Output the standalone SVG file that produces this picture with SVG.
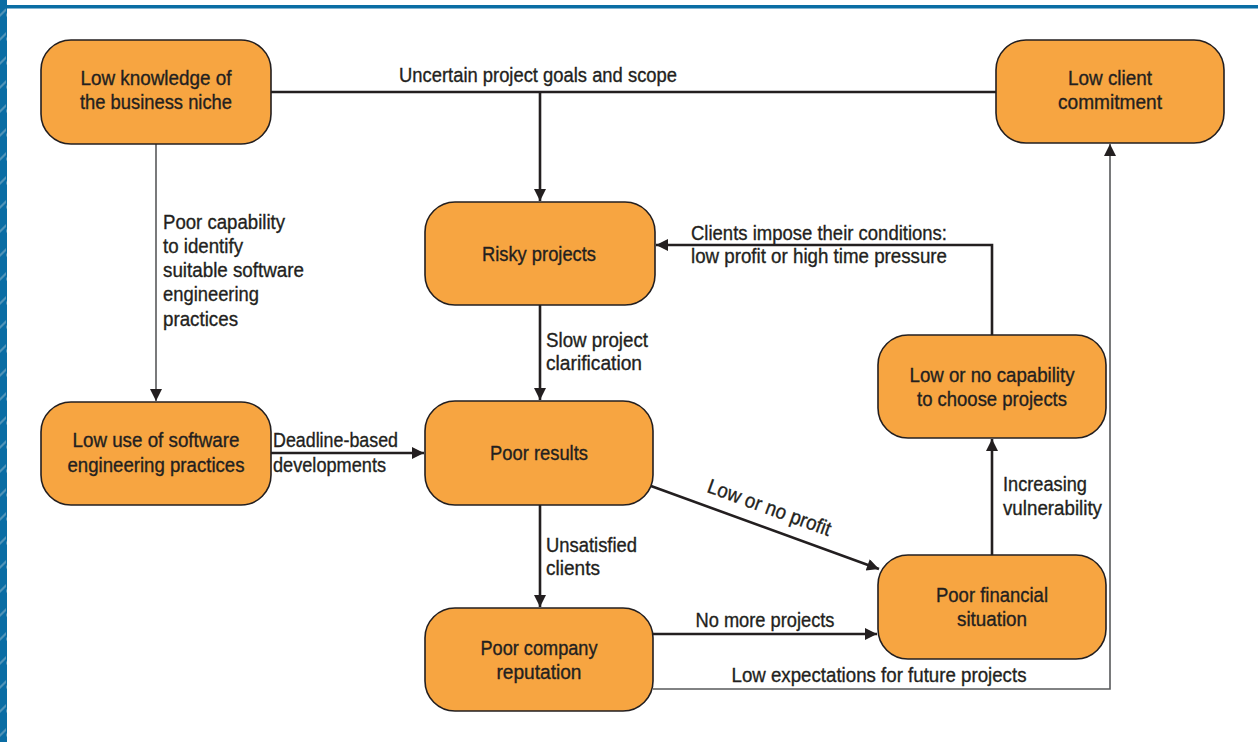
<svg xmlns="http://www.w3.org/2000/svg" width="1258" height="742" viewBox="0 0 1258 742">
<defs>
<style>
.node rect{fill:#f7a541;stroke:#231f20;stroke-width:1.6}
text{font-family:"Liberation Sans",Arial,sans-serif;font-size:20.5px;fill:#231f20;stroke:#231f20;stroke-width:0.35}
.c{text-anchor:middle}
.thick{fill:none;stroke:#231f20;stroke-width:2.6}
.thin{fill:none;stroke:#58595b;stroke-width:1.6}
</style>
<marker id="ah" viewBox="0 0 10 10" refX="10" refY="5" markerWidth="17" markerHeight="12" markerUnits="userSpaceOnUse" orient="auto">
<path d="M0,0 L10,5 L0,10 Z" fill="#231f20"/>
</marker>
<pattern id="hatch" width="6" height="24" patternUnits="userSpaceOnUse">
<rect width="6" height="24" fill="#0a6da4"/>
<path d="M0,14 L6,8 L6,11 L0,17 Z" fill="#4f93b8"/>
</pattern>
</defs>
<rect width="1258" height="742" fill="#ffffff"/>
<rect x="0" y="0" width="7" height="742" fill="url(#hatch)"/>
<rect x="0" y="5" width="1258" height="3.5" fill="#0a6da4"/>

<g id="connectors">
<path class="thick" d="M271,92 H996"/>
<path class="thick" d="M540,92 V201" marker-end="url(#ah)"/>
<path class="thin" d="M156,144 V401" marker-end="url(#ah)"/>
<path class="thick" d="M271,453 H424" marker-end="url(#ah)"/>
<path class="thick" d="M540,305 V400" marker-end="url(#ah)"/>
<path class="thick" d="M651,486 L879,569" marker-end="url(#ah)"/>
<path class="thick" d="M540,505 V607" marker-end="url(#ah)"/>
<path class="thick" d="M653,634 H877" marker-end="url(#ah)"/>
<path class="thin" d="M653,689 H1110 V144" marker-end="url(#ah)"/>
<path class="thick" d="M992,555 V439" marker-end="url(#ah)"/>
<path class="thick" d="M992,335 V245 H656" marker-end="url(#ah)"/>
<text class="c" x="538" y="82" textLength="278" lengthAdjust="spacingAndGlyphs">Uncertain project goals and scope</text>
<text x="163" y="229" textLength="122" lengthAdjust="spacingAndGlyphs">Poor capability</text>
<text x="163" y="253" textLength="80" lengthAdjust="spacingAndGlyphs">to identify</text>
<text x="163" y="277" textLength="141" lengthAdjust="spacingAndGlyphs">suitable software</text>
<text x="163" y="301" textLength="96" lengthAdjust="spacingAndGlyphs">engineering</text>
<text x="163" y="326" textLength="75" lengthAdjust="spacingAndGlyphs">practices</text>
<text x="273" y="447" textLength="125" lengthAdjust="spacingAndGlyphs">Deadline-based</text>
<text x="273" y="472" textLength="113" lengthAdjust="spacingAndGlyphs">developments</text>
<text x="546" y="347" textLength="102" lengthAdjust="spacingAndGlyphs">Slow project</text>
<text x="546" y="370" textLength="96" lengthAdjust="spacingAndGlyphs">clarification</text>
<text x="691" y="240" textLength="256" lengthAdjust="spacingAndGlyphs">Clients impose their conditions:</text>
<text x="691" y="263" textLength="256" lengthAdjust="spacingAndGlyphs">low profit or high time pressure</text>
<text class="c" transform="translate(767,514) rotate(20)" textLength="130" lengthAdjust="spacingAndGlyphs">Low or no profit</text>
<text x="546" y="552" textLength="91" lengthAdjust="spacingAndGlyphs">Unsatisfied</text>
<text x="546" y="575" textLength="54" lengthAdjust="spacingAndGlyphs">clients</text>
<text class="c" x="765" y="627" textLength="139" lengthAdjust="spacingAndGlyphs">No more projects</text>
<text class="c" x="879" y="682" textLength="295" lengthAdjust="spacingAndGlyphs">Low expectations for future projects</text>
<text x="1003" y="491" textLength="84" lengthAdjust="spacingAndGlyphs">Increasing</text>
<text x="1003" y="515" textLength="99" lengthAdjust="spacingAndGlyphs">vulnerability</text>
</g>

<g id="n1" class="node"><rect x="41" y="40" width="230" height="104" rx="30"/><text class="c" x="156" y="85" textLength="151" lengthAdjust="spacingAndGlyphs">Low knowledge of</text><text class="c" x="156" y="109" textLength="152" lengthAdjust="spacingAndGlyphs">the business niche</text></g>
<g id="n2" class="node"><rect x="996" y="40" width="228" height="103" rx="30"/><text class="c" x="1110" y="85" textLength="84" lengthAdjust="spacingAndGlyphs">Low client</text><text class="c" x="1110" y="109" textLength="104" lengthAdjust="spacingAndGlyphs">commitment</text></g>
<g id="n3" class="node"><rect x="425" y="202" width="230" height="103" rx="30"/><text class="c" x="539" y="261" textLength="114" lengthAdjust="spacingAndGlyphs">Risky projects</text></g>
<g id="n4" class="node"><rect x="41" y="402" width="230" height="103" rx="30"/><text class="c" x="156" y="447" textLength="167" lengthAdjust="spacingAndGlyphs">Low use of software</text><text class="c" x="156" y="472" textLength="177" lengthAdjust="spacingAndGlyphs">engineering practices</text></g>
<g id="n5" class="node"><rect x="425" y="401" width="228" height="104" rx="30"/><text class="c" x="539" y="460" textLength="98" lengthAdjust="spacingAndGlyphs">Poor results</text></g>
<g id="n6" class="node"><rect x="878" y="335" width="228" height="103" rx="30"/><text class="c" x="992" y="382" textLength="165" lengthAdjust="spacingAndGlyphs">Low or no capability</text><text class="c" x="992" y="406" textLength="150" lengthAdjust="spacingAndGlyphs">to choose projects</text></g>
<g id="n7" class="node"><rect x="878" y="555" width="228" height="104" rx="30"/><text class="c" x="992" y="602" textLength="112" lengthAdjust="spacingAndGlyphs">Poor financial</text><text class="c" x="992" y="626" textLength="70" lengthAdjust="spacingAndGlyphs">situation</text></g>
<g id="n8" class="node"><rect x="425" y="608" width="228" height="103" rx="30"/><text class="c" x="539" y="655" textLength="117" lengthAdjust="spacingAndGlyphs">Poor company</text><text class="c" x="539" y="679" textLength="85" lengthAdjust="spacingAndGlyphs">reputation</text></g>
</svg>
